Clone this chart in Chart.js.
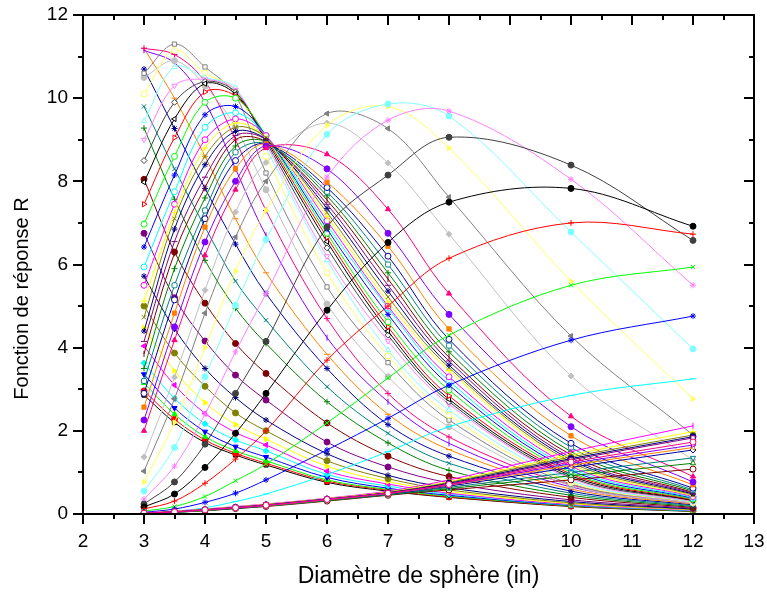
<!DOCTYPE html>
<html lang="fr">
<head>
<meta charset="utf-8">
<script src="https://cdn.jsdelivr.net/npm/chart.js@4.4.1/dist/chart.umd.min.js"></script>
<style>
  html, body { margin: 0; padding: 0; background: #fff; }
  #boite { width: 767px; height: 593px; }
</style>
</head>
<body>
<div id="boite"><canvas id="graphe" width="767" height="593"></canvas></div>
<script>
// diamètres des sphères (axe x)
const diametres = [3, 3.5, 4, 4.5, 5, 6, 7, 8, 10, 12];
const ticksX = [2, 3, 4, 5, 6, 7, 8, 9, 10, 11, 12, 13];
const ticksY = [0, 2, 4, 6, 8, 10, 12];
const titreX = 'Diamètre de sphère (in)';
const titreY = 'Fonction de réponse R';

// une ligne par groupe d'énergie, dans l'ordre des courbes (null = courbe blanche)
const reponses = [
  [2.86, 2.2, 1.72, 1.42, 1.18, 0.76, 0.55, 0.4, 0.18, 0.06],
  [2.96, 2.28, 1.78, 1.46, 1.22, 0.79, 0.57, 0.41, 0.19, 0.07],
  [3.15, 2.4, 1.86, 1.52, 1.28, 0.82, 0.59, 0.43, 0.2, 0.07],
  [3.36, 2.55, 1.98, 1.62, 1.37, 0.88, 0.62, 0.45, 0.21, 0.08],
  [3.63, 2.78, 2.17, 1.78, 1.52, 0.95, 0.67, 0.48, 0.22, 0.08],
  [4.04, 3.1, 2.42, 1.96, 1.66, 1.03, 0.72, 0.5, 0.23, 0.09],
  [4.48, 3.44, 2.68, 2.15, 1.8, 1.15, 0.78, 0.54, 0.25, 0.1],
  [5.0, 3.87, 3.07, 2.43, 2.0, 1.28, 0.85, 0.58, 0.27, 0.11],
  [5.72, 4.45, 3.5, 2.8, 2.26, 1.45, 0.93, 0.63, 0.3, 0.12],
  [6.75, 5.2, 4.16, 3.34, 2.74, 1.73, 1.13, 0.75, 0.34, 0.14],
  [8.05, 6.3, 5.07, 4.1, 3.38, 2.19, 1.39, 0.9, 0.4, 0.16],
  [9.28, 7.57, 6.1, 4.95, 4.1, 2.7, 1.71, 1.05, 0.45, 0.18],
  [9.8, 8.3, 6.9, 5.6, 4.66, 3.06, 1.94, 1.22, 0.5, 0.2],
  [10.7, 9.27, 7.83, 6.49, 5.3, 3.5, 2.15, 1.39, 0.55, 0.22],
  [11.2, 10.0, 8.6, 7.1, 5.8, 3.84, 2.4, 1.55, 0.6, 0.24],
  [11.15, 10.85, 9.9, 8.3, 6.7, 4.24, 2.7, 1.7, 0.65, 0.26],
  [11.2, 11.05, 10.4, 9.0, 7.3, 4.7, 2.9, 1.85, 0.7, 0.28],
  null,
  [10.5, 10.9, 10.3, 9.3, 7.8, 5.05, 3.3, 2.1, 0.68, 0.26],
  [10.6, 11.3, 10.75, 10.07, 8.2, 5.46, 3.64, 2.26, 0.72, 0.3],
  [10.1, 11.15, 10.6, 10.2, 8.6, 5.8, 3.8, 2.38, 0.76, 0.28],
  [9.45, 10.75, 10.5, 10.25, 8.8, 6.1, 3.94, 2.5, 0.8, 0.29],
  [9.0, 10.3, 10.45, 10.2, 8.9, 6.2, 4.16, 2.64, 0.85, 0.3],
  [8.5, 9.9, 10.4, 10.15, 8.95, 6.4, 4.3, 2.7, 0.88, 0.32],
  [7.98, 9.5, 10.35, 10.1, 9.0, 6.55, 4.4, 2.76, 0.92, 0.33],
  [7.45, 9.05, 10.15, 10.05, 9.05, 6.65, 4.5, 2.84, 0.96, 0.34],
  [6.97, 8.6, 9.9, 10.0, 9.1, 6.75, 4.62, 2.98, 1.0, 0.36],
  [6.42, 8.15, 9.6, 9.8, 9.1, 6.85, 4.8, 3.1, 1.05, 0.38],
  [5.94, 7.75, 9.3, 9.65, 9.1, 6.95, 4.95, 3.2, 1.1, 0.4],
  [5.5, 7.45, 9.0, 9.5, 9.1, 7.05, 5.0, 3.3, 1.15, 0.42],
  [5.12, 7.25, 8.8, 9.4, 9.05, 7.15, 5.1, 3.45, 1.2, 0.44],
  [4.73, 7.1, 8.6, 9.3, 9.05, 7.25, 5.22, 3.52, 1.25, 0.46],
  [4.4, 6.85, 8.4, 9.2, 9.0, 7.35, 5.36, 3.58, 1.3, 0.48],
  [4.15, 6.55, 8.1, 9.1, 9.0, 7.45, 5.5, 3.68, 1.35, 0.5],
  [3.85, 6.27, 7.85, 9.0, 8.95, 7.55, 5.65, 3.77, 1.42, 0.52],
  [3.5, 5.9, 7.6, 8.85, 8.95, 7.65, 5.8, 3.9, 1.5, 0.55],
  [3.2, 5.5, 7.3, 8.7, 8.9, 7.75, 6.0, 4.05, 1.6, 0.58],
  [2.9, 5.15, 7.1, 8.5, 8.9, 7.85, 6.2, 4.2, 1.7, 0.62],
  [2.57, 4.83, 6.9, 8.3, 8.9, 7.98, 6.44, 4.45, 1.88, 0.7],
  [2.26, 4.5, 6.54, 8.0, 8.85, 8.3, 6.75, 4.8, 2.1, 0.77],
  [2.0, 4.18, 6.22, 7.8, 8.8, 8.65, 7.33, 5.3, 2.35, 0.9],
  null,
  [1.37, 3.29, 5.38, 7.26, 8.45, 9.4, 8.44, 6.73, 3.32, 1.3],
  [1.03, 2.77, 4.83, 6.66, 8.0, 9.63, 9.27, 7.62, 4.28, 1.9],
  [0.77, 2.2, 4.0, 5.84, 7.3, 9.35, 9.8, 8.8, 5.6, 2.77],
  [0.55, 1.6, 3.3, 5.02, 6.6, 9.13, 9.86, 9.57, 6.78, 3.97],
  [0.36, 1.15, 2.4, 3.9, 5.3, 8.1, 9.47, 9.69, 8.05, 5.5],
  [0.24, 0.77, 1.68, 2.9, 4.15, 6.9, 8.15, 9.06, 8.39, 6.58],
  [0.17, 0.48, 1.12, 1.94, 2.9, 4.9, 6.53, 7.5, 7.83, 6.92],
  [0.12, 0.31, 0.74, 1.32, 2.0, 3.7, 5.0, 6.15, 7.0, 6.73],
  [0.07, 0.18, 0.42, 0.8, 1.2, 2.19, 3.27, 4.3, 5.5, 5.94],
  [0.04, 0.12, 0.28, 0.5, 0.82, 1.54, 2.3, 3.1, 4.18, 4.76],
  [0.02, 0.06, 0.15, 0.3, 0.48, 0.95, 1.5, 2.1, 2.85, 3.25],
  [0.03, 0.07, 0.12, 0.18, 0.24, 0.38, 0.55, 0.82, 1.5, 2.12],
  [0.02, 0.06, 0.11, 0.17, 0.23, 0.37, 0.53, 0.78, 1.42, 1.98],
  [0.02, 0.06, 0.11, 0.16, 0.22, 0.36, 0.52, 0.76, 1.37, 1.9],
  [0.02, 0.05, 0.1, 0.16, 0.22, 0.36, 0.51, 0.74, 1.33, 1.86],
  [0.02, 0.05, 0.1, 0.15, 0.21, 0.35, 0.5, 0.72, 1.3, 1.83],
  [0.01, 0.04, 0.08, 0.13, 0.18, 0.31, 0.45, 0.58, 0.82, 1.08],
  [0.01, 0.04, 0.08, 0.13, 0.19, 0.32, 0.46, 0.61, 0.92, 1.22],
  [0.01, 0.04, 0.09, 0.14, 0.19, 0.33, 0.47, 0.64, 1.0, 1.35],
  [0.02, 0.05, 0.09, 0.14, 0.2, 0.34, 0.48, 0.67, 1.12, 1.54],
  [0.02, 0.05, 0.09, 0.15, 0.2, 0.34, 0.49, 0.69, 1.17, 1.6],
  [0.02, 0.05, 0.1, 0.15, 0.21, 0.35, 0.5, 0.7, 1.21, 1.66],
  [0.02, 0.05, 0.1, 0.15, 0.21, 0.35, 0.5, 0.71, 1.25, 1.73]
];

// couleurs dans l'ordre d'Origin
const palette = ['#000000', '#FF0000', '#00FF00', '#0000FF', '#00FFFF', '#FF00FF', '#FFFF00', '#808000',
  '#000080', '#800080', '#800000', '#008000', '#008080', '#0000A0', '#FF8000', '#8000FF',
  '#FF0080', '#FFFFFF', '#C0C0C0', '#808080', '#FFFF60', '#80FFFF', '#FF80FF', '#404040'];
// symboles : [style, rotation]
const symboles = [['rect', 0], ['circle', 0], ['triangle', 0], ['triangle', 180], ['rectRot', 0],
  ['triangle', -90], ['triangle', 90], ['circle', 0], ['star', 0], ['circle', 0], ['circle', 0],
  ['cross', 0], ['crossRot', 0], ['star', 0], ['line', 0], ['line', 90], ['cross', 0],
  ['rectRounded', 0], ['circle', 0]];

const datasets = [];
reponses.forEach((valeurs, i) => {
  if (!valeurs) return;
  const couleur = palette[i % palette.length];
  const [style, rot] = symboles[i % symboles.length];
  const plein = Math.floor(i / symboles.length) % 2 === 0;
  datasets.push({
    label: 'E' + (i + 1),
    data: valeurs.map((v, j) => ({ x: diametres[j], y: v })),
    borderColor: couleur,
    backgroundColor: couleur,
    borderWidth: 1,
    pointStyle: style,
    pointRotation: rot,
    pointRadius: 3,
    pointBorderWidth: 1,
    pointBorderColor: couleur,
    pointBackgroundColor: plein ? couleur : '#FFFFFF',
    tension: 0.35,
    order: -i
  });
});

// cadre, graduations et titre vertical
const cadre = {
  id: 'cadre',
  afterDatasetsDraw(chart) {
    const { ctx, chartArea: a, scales: { x, y } } = chart;
    ctx.save();
    ctx.strokeStyle = '#000';
    ctx.lineWidth = 2;
    ctx.strokeRect(a.left, a.top, a.right - a.left, a.bottom - a.top);
    ctx.beginPath();
    for (let v = 2; v <= 13; v += 0.5) {
      const px = Math.round(x.getPixelForValue(v));
      const l = Number.isInteger(v) ? 10 : 5;
      ctx.moveTo(px, a.bottom); ctx.lineTo(px, a.bottom + l);
      ctx.moveTo(px, a.top); ctx.lineTo(px, a.top + l);
    }
    for (let v = 0; v <= 12; v++) {
      const py = Math.round(y.getPixelForValue(v));
      const l = v % 2 === 0 ? 10 : 5;
      ctx.moveTo(a.left, py); ctx.lineTo(a.left - l, py);
      ctx.moveTo(a.right, py); ctx.lineTo(a.right - l, py);
    }
    ctx.stroke();
    ctx.fillStyle = '#000';
    ctx.font = '20px "Liberation Sans", Arial, sans-serif';
    ctx.textAlign = 'center';
    ctx.textBaseline = 'middle';
    ctx.translate(22, (a.top + a.bottom) / 2 + 34);
    ctx.rotate(-Math.PI / 2);
    ctx.fillText(titreY, 0, 0);
    ctx.restore();
  }
};

const police = { family: '"Liberation Sans", Arial, sans-serif', size: 19 };

const ctx = document.getElementById('graphe').getContext('2d');
const graphe = new Chart(ctx, {
  type: 'line',
  data: { datasets: datasets },
  options: {
    responsive: false,
    devicePixelRatio: 1,
    animation: false,
    layout: { padding: { left: 0, right: 13, top: 15, bottom: 0 } },
    plugins: {
      legend: { display: false },
      tooltip: { enabled: false }
    },
    scales: {
      x: {
        type: 'linear',
        min: 2,
        max: 13,
        afterBuildTicks: (s) => { s.ticks = ticksX.map(v => ({ value: v })); },
        afterFit: (s) => { s.height = 79; s.paddingLeft = 0; s.paddingRight = 0; },
        grid: { display: false, drawTicks: false },
        border: { display: false },
        ticks: { color: '#000', font: police, padding: 16, maxRotation: 0 },
        title: {
          display: true,
          text: titreX,
          color: '#000',
          font: { family: police.family, size: 23 },
          padding: { top: 0, bottom: 3 }
        }
      },
      y: {
        type: 'linear',
        min: 0,
        max: 12,
        afterBuildTicks: (s) => { s.ticks = ticksY.map(v => ({ value: v })); },
        afterFit: (s) => { s.width = 83; s.paddingTop = 0; s.paddingBottom = 0; },
        grid: { display: false, drawTicks: false },
        border: { display: false },
        ticks: { color: '#000', font: police, padding: 15 }
      }
    }
  },
  plugins: [cadre]
});
</script>
</body>
</html>
